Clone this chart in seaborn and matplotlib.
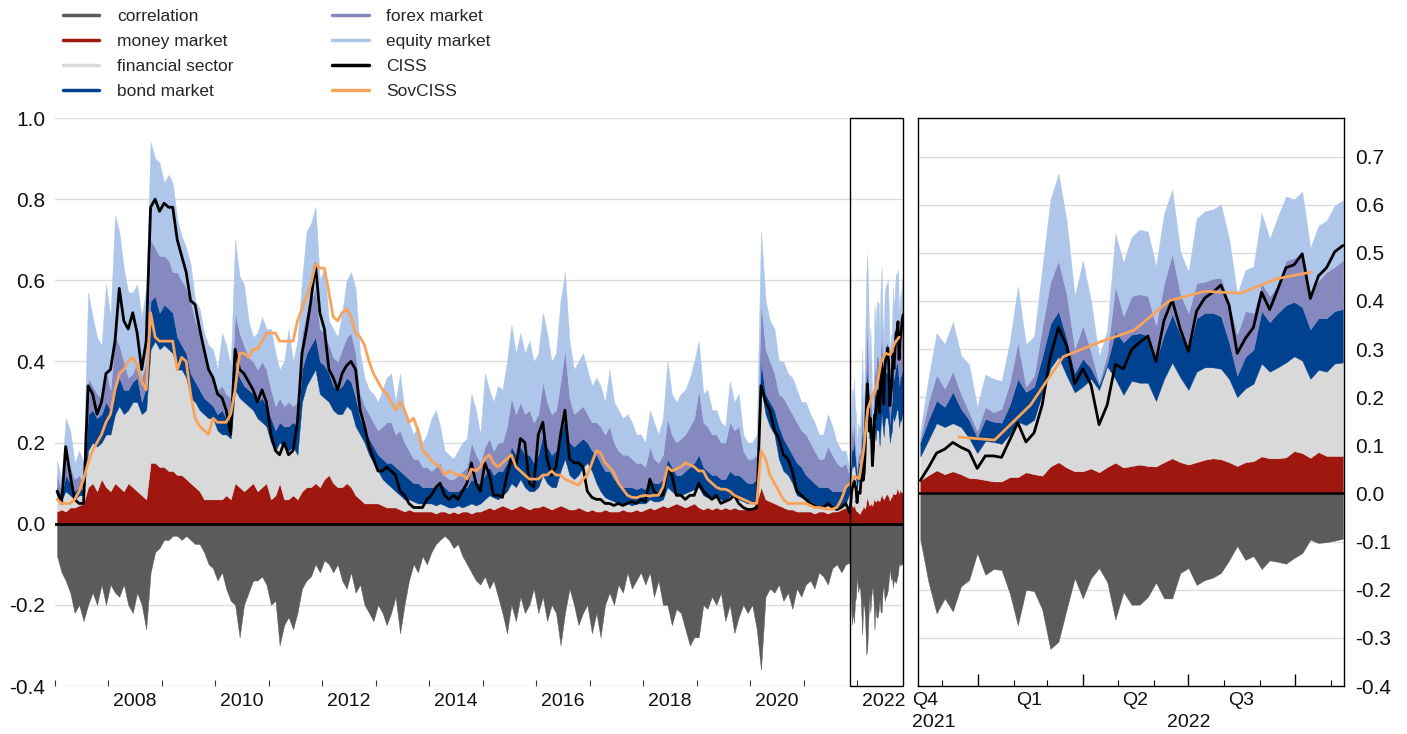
import numpy as np
import pandas as pd
import matplotlib
matplotlib.use("Agg")
import matplotlib.pyplot as plt
import matplotlib.dates as mdates
from matplotlib.lines import Line2D
from matplotlib.patches import Rectangle
import seaborn as sns

# ---- monthly history, Jan 2007 - Oct 2021 (stacked levels = top edge of each band) ----
money_hist = [0.03, 0.035, 0.03, 0.04, 0.04, 0.045, 0.05, 0.09, 0.10, 0.08, 0.11, 0.09,
              0.08, 0.10, 0.09, 0.08, 0.10, 0.09, 0.08, 0.07, 0.06, 0.15, 0.15, 0.14,
              0.14, 0.13, 0.13, 0.12, 0.12, 0.11, 0.10, 0.09, 0.08, 0.06, 0.06, 0.06,
              0.06, 0.06, 0.07, 0.06, 0.10, 0.09, 0.08, 0.09, 0.10, 0.08, 0.09, 0.10,
              0.06, 0.07, 0.10, 0.06, 0.06, 0.07, 0.06, 0.08, 0.09, 0.09, 0.10, 0.09,
              0.11, 0.12, 0.10, 0.09, 0.09, 0.10, 0.09, 0.07, 0.06, 0.05, 0.05, 0.05,
              0.05, 0.045, 0.04, 0.04, 0.04, 0.035, 0.03, 0.035, 0.03, 0.03, 0.03, 0.03,
              0.03, 0.025, 0.03, 0.03, 0.025, 0.03, 0.025, 0.03, 0.03, 0.025, 0.03, 0.03,
              0.035, 0.04, 0.035, 0.04, 0.045, 0.04, 0.035, 0.04, 0.045, 0.04, 0.035, 0.04,
              0.04, 0.045, 0.04, 0.035, 0.04, 0.045, 0.04, 0.035, 0.035, 0.04, 0.035, 0.03,
              0.035, 0.03, 0.03, 0.035, 0.03, 0.03, 0.03, 0.035, 0.03, 0.03, 0.035, 0.03,
              0.035, 0.04, 0.035, 0.04, 0.045, 0.04, 0.045, 0.05, 0.045, 0.04, 0.045, 0.05,
              0.04, 0.035, 0.04, 0.035, 0.04, 0.035, 0.04, 0.035, 0.04, 0.035, 0.035, 0.04,
              0.04, 0.05, 0.09, 0.06, 0.055, 0.05, 0.045, 0.04, 0.035, 0.035, 0.03, 0.03,
              0.03, 0.03, 0.025, 0.03, 0.03, 0.025, 0.03, 0.03, 0.035, 0.04]
fin_hist = [0.07, 0.06, 0.08, 0.07, 0.06, 0.07, 0.07, 0.18, 0.20, 0.19, 0.20, 0.22,
            0.22, 0.27, 0.29, 0.27, 0.28, 0.30, 0.30, 0.27, 0.28, 0.43, 0.45, 0.43,
            0.44, 0.43, 0.42, 0.38, 0.38, 0.36, 0.31, 0.30, 0.28, 0.27, 0.26, 0.26,
            0.23, 0.22, 0.22, 0.21, 0.33, 0.31, 0.30, 0.29, 0.28, 0.26, 0.25, 0.24,
            0.20, 0.18, 0.20, 0.19, 0.18, 0.19, 0.17, 0.30, 0.34, 0.36, 0.38, 0.32,
            0.31, 0.30, 0.28, 0.27, 0.27, 0.29, 0.28, 0.24, 0.22, 0.20, 0.17, 0.15,
            0.13, 0.11, 0.10, 0.09, 0.08, 0.07, 0.06, 0.06, 0.055, 0.05, 0.05, 0.05,
            0.05, 0.045, 0.05, 0.045, 0.04, 0.04, 0.045, 0.04, 0.045, 0.05, 0.045, 0.05,
            0.06, 0.07, 0.065, 0.06, 0.07, 0.08, 0.10, 0.09, 0.11, 0.09, 0.08, 0.08,
            0.09, 0.12, 0.10, 0.09, 0.09, 0.13, 0.16, 0.12, 0.11, 0.12, 0.14, 0.15,
            0.13, 0.10, 0.08, 0.065, 0.06, 0.055, 0.05, 0.05, 0.05, 0.045, 0.05, 0.05,
            0.05, 0.06, 0.055, 0.055, 0.06, 0.09, 0.08, 0.07, 0.07, 0.075, 0.08, 0.085,
            0.09, 0.07, 0.065, 0.06, 0.065, 0.06, 0.055, 0.07, 0.065, 0.06, 0.055, 0.05,
            0.05, 0.06, 0.34, 0.27, 0.24, 0.22, 0.16, 0.13, 0.12, 0.10, 0.07, 0.065,
            0.06, 0.055, 0.05, 0.045, 0.04, 0.045, 0.04, 0.04, 0.04, 0.05]
bond_hist = [0.09, 0.07, 0.12, 0.10, 0.08, 0.09, 0.08, 0.27, 0.28, 0.26, 0.27, 0.30,
             0.28, 0.33, 0.36, 0.33, 0.33, 0.35, 0.36, 0.30, 0.34, 0.55, 0.56, 0.52,
             0.54, 0.53, 0.52, 0.46, 0.44, 0.42, 0.37, 0.35, 0.33, 0.31, 0.30, 0.29,
             0.27, 0.28, 0.26, 0.25, 0.40, 0.36, 0.34, 0.33, 0.32, 0.30, 0.31, 0.29,
             0.26, 0.23, 0.25, 0.24, 0.24, 0.25, 0.24, 0.38, 0.42, 0.44, 0.46, 0.40,
             0.39, 0.37, 0.34, 0.33, 0.34, 0.36, 0.35, 0.31, 0.26, 0.23, 0.21, 0.19,
             0.17, 0.16, 0.15, 0.15, 0.14, 0.13, 0.12, 0.11, 0.10, 0.10, 0.09, 0.09,
             0.09, 0.09, 0.10, 0.09, 0.08, 0.08, 0.08, 0.09, 0.09, 0.11, 0.10, 0.10,
             0.12, 0.14, 0.12, 0.13, 0.13, 0.15, 0.19, 0.17, 0.19, 0.17, 0.17, 0.15,
             0.17, 0.22, 0.19, 0.17, 0.18, 0.22, 0.26, 0.20, 0.19, 0.20, 0.21, 0.20,
             0.18, 0.17, 0.15, 0.13, 0.13, 0.11, 0.10, 0.09, 0.09, 0.09, 0.085, 0.09,
             0.085, 0.11, 0.10, 0.10, 0.11, 0.16, 0.14, 0.12, 0.12, 0.13, 0.14, 0.15,
             0.17, 0.14, 0.13, 0.12, 0.12, 0.11, 0.11, 0.13, 0.12, 0.12, 0.11, 0.10,
             0.10, 0.11, 0.40, 0.32, 0.30, 0.28, 0.24, 0.21, 0.19, 0.17, 0.15, 0.14,
             0.12, 0.11, 0.10, 0.09, 0.09, 0.09, 0.08, 0.08, 0.08, 0.09]
forex_hist = [0.12, 0.08, 0.17, 0.14, 0.11, 0.12, 0.10, 0.36, 0.34, 0.32, 0.31, 0.38,
              0.33, 0.46, 0.44, 0.40, 0.36, 0.37, 0.40, 0.36, 0.40, 0.70, 0.68, 0.66,
              0.66, 0.65, 0.62, 0.62, 0.60, 0.58, 0.55, 0.50, 0.47, 0.42, 0.38, 0.36,
              0.33, 0.34, 0.32, 0.31, 0.52, 0.47, 0.44, 0.41, 0.40, 0.38, 0.40, 0.38,
              0.33, 0.29, 0.31, 0.29, 0.30, 0.29, 0.30, 0.47, 0.52, 0.55, 0.58, 0.48,
              0.47, 0.44, 0.41, 0.40, 0.43, 0.46, 0.47, 0.42, 0.32, 0.29, 0.27, 0.25,
              0.23, 0.24, 0.25, 0.25, 0.22, 0.23, 0.20, 0.18, 0.16, 0.16, 0.14, 0.14,
              0.13, 0.14, 0.15, 0.12, 0.11, 0.11, 0.12, 0.13, 0.14, 0.20, 0.17, 0.15,
              0.19, 0.21, 0.18, 0.20, 0.20, 0.24, 0.31, 0.27, 0.30, 0.27, 0.28, 0.25,
              0.27, 0.35, 0.30, 0.27, 0.28, 0.35, 0.43, 0.31, 0.27, 0.28, 0.29, 0.27,
              0.25, 0.25, 0.24, 0.22, 0.24, 0.20, 0.18, 0.17, 0.17, 0.16, 0.15, 0.15,
              0.14, 0.19, 0.16, 0.15, 0.17, 0.26, 0.22, 0.20, 0.21, 0.22, 0.24, 0.26,
              0.33, 0.25, 0.24, 0.22, 0.22, 0.20, 0.20, 0.25, 0.23, 0.24, 0.18, 0.16,
              0.16, 0.17, 0.55, 0.43, 0.40, 0.37, 0.32, 0.31, 0.29, 0.27, 0.25, 0.23,
              0.22, 0.20, 0.18, 0.16, 0.16, 0.19, 0.17, 0.15, 0.14, 0.15]
equity_hist = [0.155, 0.11, 0.26, 0.23, 0.15, 0.18, 0.15, 0.57, 0.51, 0.46, 0.44, 0.59,
               0.51, 0.76, 0.72, 0.63, 0.57, 0.57, 0.59, 0.51, 0.58, 0.94, 0.90, 0.89,
               0.84, 0.86, 0.84, 0.75, 0.71, 0.68, 0.64, 0.55, 0.53, 0.47, 0.44, 0.43,
               0.38, 0.47, 0.44, 0.39, 0.70, 0.61, 0.59, 0.50, 0.46, 0.47, 0.51, 0.48,
               0.48, 0.42, 0.38, 0.40, 0.48, 0.40, 0.45, 0.60, 0.72, 0.74, 0.78, 0.60,
               0.63, 0.50, 0.48, 0.46, 0.52, 0.60, 0.62, 0.58, 0.42, 0.36, 0.33, 0.32,
               0.30, 0.33, 0.36, 0.37, 0.30, 0.37, 0.28, 0.25, 0.22, 0.24, 0.20, 0.22,
               0.26, 0.28, 0.24, 0.18, 0.17, 0.16, 0.18, 0.20, 0.21, 0.32, 0.28, 0.22,
               0.37, 0.33, 0.30, 0.34, 0.33, 0.40, 0.49, 0.42, 0.47, 0.42, 0.45, 0.40,
               0.42, 0.52, 0.47, 0.40, 0.42, 0.55, 0.62, 0.45, 0.38, 0.40, 0.42, 0.38,
               0.34, 0.36, 0.34, 0.30, 0.38, 0.30, 0.28, 0.26, 0.27, 0.25, 0.22, 0.22,
               0.20, 0.28, 0.25, 0.22, 0.26, 0.40, 0.32, 0.30, 0.32, 0.33, 0.36, 0.40,
               0.45, 0.32, 0.33, 0.28, 0.28, 0.25, 0.24, 0.35, 0.30, 0.32, 0.22, 0.20,
               0.20, 0.22, 0.72, 0.55, 0.50, 0.48, 0.40, 0.40, 0.37, 0.36, 0.33, 0.30,
               0.30, 0.27, 0.25, 0.22, 0.22, 0.27, 0.24, 0.20, 0.18, 0.18]
corr_hist = [-0.08, -0.12, -0.14, -0.17, -0.22, -0.20, -0.24, -0.20, -0.17, -0.20, -0.15, -0.20,
             -0.15, -0.17, -0.18, -0.15, -0.20, -0.22, -0.17, -0.20, -0.26, -0.12, -0.07, -0.06,
             -0.04, -0.04, -0.03, -0.03, -0.04, -0.03, -0.04, -0.05, -0.05, -0.07, -0.10, -0.11,
             -0.14, -0.12, -0.16, -0.19, -0.20, -0.28, -0.20, -0.17, -0.14, -0.14, -0.13, -0.15,
             -0.20, -0.19, -0.30, -0.25, -0.23, -0.26, -0.22, -0.16, -0.14, -0.13, -0.10, -0.12,
             -0.09, -0.10, -0.12, -0.10, -0.14, -0.16, -0.12, -0.17, -0.15, -0.20, -0.22, -0.24,
             -0.20, -0.22, -0.25, -0.22, -0.18, -0.27, -0.20, -0.14, -0.10, -0.12, -0.08, -0.10,
             -0.07, -0.05, -0.04, -0.03, -0.04, -0.06, -0.05, -0.08, -0.10, -0.12, -0.14, -0.15,
             -0.13, -0.16, -0.14, -0.18, -0.22, -0.27, -0.20, -0.24, -0.18, -0.22, -0.20, -0.16,
             -0.22, -0.18, -0.24, -0.20, -0.22, -0.30, -0.22, -0.16, -0.20, -0.25, -0.22, -0.20,
             -0.27, -0.22, -0.28, -0.20, -0.17, -0.20, -0.15, -0.17, -0.12, -0.16, -0.14, -0.12,
             -0.15, -0.12, -0.18, -0.14, -0.20, -0.20, -0.25, -0.21, -0.22, -0.26, -0.30, -0.28,
             -0.28, -0.20, -0.21, -0.18, -0.20, -0.17, -0.24, -0.20, -0.27, -0.23, -0.20, -0.22,
             -0.20, -0.26, -0.36, -0.18, -0.16, -0.17, -0.15, -0.19, -0.17, -0.21, -0.16, -0.18,
             -0.15, -0.14, -0.16, -0.12, -0.13, -0.15, -0.11, -0.10, -0.12, -0.10]
ciss_hist = [0.08, 0.05, 0.19, 0.12, 0.06, 0.05, 0.05, 0.34, 0.32, 0.27, 0.30, 0.37,
             0.38, 0.45, 0.58, 0.50, 0.48, 0.52, 0.47, 0.38, 0.45, 0.78, 0.80, 0.77,
             0.79, 0.78, 0.78, 0.70, 0.66, 0.62, 0.55, 0.54, 0.48, 0.43, 0.38, 0.36,
             0.32, 0.31, 0.28, 0.22, 0.43, 0.38, 0.37, 0.35, 0.33, 0.30, 0.33, 0.30,
             0.22, 0.18, 0.17, 0.20, 0.17, 0.18, 0.25, 0.42, 0.48, 0.55, 0.64, 0.52,
             0.48, 0.38, 0.36, 0.33, 0.37, 0.39, 0.40, 0.38, 0.28, 0.24, 0.19, 0.16,
             0.13, 0.13, 0.14, 0.13, 0.12, 0.08, 0.07, 0.05, 0.04, 0.04, 0.04, 0.06,
             0.07, 0.09, 0.10, 0.07, 0.06, 0.07, 0.06, 0.08, 0.10, 0.15, 0.10, 0.08,
             0.15, 0.12, 0.07, 0.07, 0.065, 0.12, 0.16, 0.14, 0.21, 0.20, 0.10, 0.09,
             0.22, 0.25, 0.16, 0.12, 0.14, 0.22, 0.28, 0.16, 0.15, 0.15, 0.14, 0.08,
             0.065, 0.06, 0.06, 0.05, 0.05, 0.045, 0.05, 0.045, 0.05, 0.055, 0.05, 0.06,
             0.055, 0.11, 0.08, 0.07, 0.07, 0.14, 0.12, 0.07, 0.07, 0.06, 0.07, 0.07,
             0.10, 0.08, 0.07, 0.06, 0.07, 0.05, 0.055, 0.06, 0.07, 0.05, 0.04, 0.035,
             0.035, 0.04, 0.34, 0.30, 0.28, 0.23, 0.21, 0.17, 0.16, 0.13, 0.08, 0.07,
             0.06, 0.05, 0.045, 0.04, 0.04, 0.05, 0.04, 0.035, 0.04, 0.05]
# SovCISS, monthly Jan 2007 - Nov 2021
sov_hist = [0.06, 0.05, 0.05, 0.05, 0.06, 0.08, 0.11, 0.15, 0.18, 0.20, 0.22, 0.25,
            0.27, 0.33, 0.37, 0.38, 0.40, 0.41, 0.39, 0.35, 0.33, 0.52, 0.46, 0.45,
            0.45, 0.45, 0.45, 0.38, 0.41, 0.40, 0.32, 0.26, 0.24, 0.23, 0.22, 0.26,
            0.25, 0.25, 0.25, 0.27, 0.33, 0.42, 0.42, 0.41, 0.43, 0.43, 0.45, 0.47,
            0.47, 0.47, 0.45, 0.45, 0.45, 0.45, 0.50, 0.53, 0.56, 0.59, 0.64, 0.63,
            0.63, 0.57, 0.51, 0.50, 0.52, 0.53, 0.51, 0.47, 0.46, 0.44, 0.40, 0.37,
            0.35, 0.33, 0.32, 0.30, 0.28, 0.30, 0.28, 0.25, 0.26, 0.23, 0.18, 0.17,
            0.155, 0.146, 0.14, 0.12, 0.13, 0.125, 0.12, 0.12, 0.11, 0.135, 0.13, 0.14,
            0.16, 0.17, 0.15, 0.14, 0.15, 0.16, 0.17, 0.14, 0.13, 0.12, 0.11, 0.11,
            0.11, 0.12, 0.12, 0.13, 0.12, 0.12, 0.11, 0.105, 0.10, 0.095, 0.11, 0.12,
            0.15, 0.18, 0.175, 0.15, 0.14, 0.125, 0.10, 0.085, 0.07, 0.065, 0.064, 0.068,
            0.07, 0.068, 0.07, 0.07, 0.09, 0.14, 0.13, 0.135, 0.14, 0.15, 0.145, 0.14,
            0.13, 0.13, 0.11, 0.10, 0.09, 0.085, 0.085, 0.08, 0.07, 0.065, 0.06, 0.055,
            0.05, 0.05, 0.18, 0.16, 0.12, 0.10, 0.08, 0.06, 0.05, 0.05, 0.05, 0.05,
            0.05, 0.045, 0.04, 0.04, 0.038, 0.036, 0.036, 0.04, 0.06, 0.09, 0.10]

# ---- weekly, 12 Nov 2021 - 11 Nov 2022 ----
money_week = [0.027, 0.038, 0.048, 0.04, 0.046, 0.04, 0.032, 0.031, 0.028, 0.025, 0.025, 0.034,
              0.034, 0.044, 0.04, 0.037, 0.056, 0.065, 0.054, 0.046, 0.046, 0.052, 0.044, 0.055,
              0.064, 0.054, 0.057, 0.06, 0.057, 0.056, 0.065, 0.073, 0.065, 0.06, 0.065, 0.07,
              0.073, 0.071, 0.065, 0.057, 0.065, 0.067, 0.077, 0.073, 0.073, 0.075, 0.088, 0.084,
              0.074, 0.086, 0.078, 0.078, 0.078]
fin_week = [0.077, 0.111, 0.146, 0.138, 0.146, 0.138, 0.115, 0.084, 0.109, 0.107, 0.103, 0.123,
            0.149, 0.142, 0.153, 0.207, 0.26, 0.284, 0.245, 0.21, 0.222, 0.238, 0.215, 0.264,
            0.238, 0.205, 0.234, 0.23, 0.23, 0.192, 0.238, 0.272, 0.241, 0.215, 0.253, 0.262,
            0.262, 0.259, 0.238, 0.20, 0.218, 0.228, 0.27, 0.253, 0.262, 0.272, 0.285, 0.276,
            0.238, 0.257, 0.253, 0.27, 0.272]
bond_week = [0.107, 0.153, 0.193, 0.18, 0.211, 0.176, 0.153, 0.116, 0.155, 0.149, 0.147, 0.184,
             0.238, 0.211, 0.222, 0.284, 0.352, 0.379, 0.322, 0.25, 0.28, 0.26, 0.225, 0.27,
             0.337, 0.314, 0.33, 0.333, 0.328, 0.276, 0.33, 0.372, 0.33, 0.295, 0.364, 0.375,
             0.375, 0.368, 0.314, 0.245, 0.284, 0.299, 0.379, 0.356, 0.375, 0.391, 0.398, 0.387,
             0.341, 0.364, 0.364, 0.379, 0.383]
forex_week = [0.115, 0.19, 0.247, 0.218, 0.254, 0.207, 0.169, 0.13, 0.18, 0.169, 0.176, 0.23,
              0.314, 0.222, 0.245, 0.345, 0.439, 0.484, 0.414, 0.30, 0.349, 0.295, 0.23, 0.291,
              0.431, 0.368, 0.41, 0.414, 0.41, 0.349, 0.437, 0.498, 0.414, 0.375, 0.437, 0.44,
              0.446, 0.448, 0.398, 0.33, 0.379, 0.375, 0.437, 0.41, 0.433, 0.484, 0.489, 0.498,
              0.42, 0.442, 0.46, 0.471, 0.484]
equity_week = [0.13, 0.24, 0.333, 0.31, 0.356, 0.287, 0.268, 0.18, 0.247, 0.238, 0.234, 0.314,
               0.43, 0.31, 0.326, 0.467, 0.61, 0.664, 0.567, 0.41, 0.483, 0.40, 0.284, 0.34,
               0.54, 0.479, 0.533, 0.548, 0.544, 0.471, 0.582, 0.631, 0.502, 0.46, 0.571, 0.586,
               0.59, 0.60, 0.529, 0.414, 0.464, 0.471, 0.582, 0.529, 0.575, 0.617, 0.611, 0.627,
               0.51, 0.556, 0.567, 0.598, 0.609]
corr_week = [-0.096, -0.184, -0.249, -0.218, -0.245, -0.193, -0.18, -0.124, -0.169, -0.157, -0.159, -0.207,
             -0.274, -0.2, -0.203, -0.241, -0.323, -0.308, -0.241, -0.176, -0.218, -0.176, -0.155, -0.184,
             -0.262, -0.205, -0.231, -0.231, -0.215, -0.185, -0.218, -0.218, -0.165, -0.155, -0.19, -0.18,
             -0.175, -0.165, -0.139, -0.109, -0.138, -0.13, -0.157, -0.139, -0.142, -0.146, -0.134, -0.124,
             -0.096, -0.103, -0.101, -0.098, -0.094]
ciss_week = [0.027, 0.054, 0.084, 0.092, 0.106, 0.096, 0.088, 0.052, 0.078, 0.078, 0.075, 0.111,
             0.147, 0.107, 0.126, 0.184, 0.284, 0.345, 0.307, 0.228, 0.259, 0.226, 0.143, 0.184,
             0.268, 0.259, 0.299, 0.314, 0.327, 0.274, 0.36, 0.402, 0.341, 0.295, 0.379, 0.406,
             0.418, 0.433, 0.391, 0.291, 0.322, 0.345, 0.418, 0.382, 0.425, 0.469, 0.475, 0.498,
             0.405, 0.452, 0.469, 0.502, 0.515]
# SovCISS, monthly Dec 2021 - Oct 2022
sov_recent = [0.117, 0.111, 0.184, 0.284, 0.314, 0.339, 0.401, 0.42, 0.416, 0.446, 0.46]

labels = ["correlation", "money market", "financial sector", "bond market",
          "forex market", "equity market", "CISS", "SovCISS"]
c_corr = "#5b5b5b"
c_money = "#a0170f"
c_fin = "#d9d9d9"
c_bond = "#00428f"
c_forex = "#8689bf"
c_equity = "#adc6ea"
c_sov = "#f7a35c"
band_colors = [c_money, c_fin, c_bond, c_forex, c_equity]

sns.set_theme(style="white")
plt.rcParams["font.family"] = ["Liberation Sans", "DejaVu Sans"]
plt.rcParams["axes.unicode_minus"] = False

months = pd.date_range("2007-01-01", periods=len(ciss_hist), freq="MS") + pd.Timedelta(days=14)
weeks = pd.date_range("2021-11-12", periods=len(ciss_week), freq="7D")
sov_months = pd.date_range("2007-01-01", periods=len(sov_hist), freq="MS") + pd.Timedelta(days=14)
sov_recent_dates = pd.date_range("2021-12-01", periods=len(sov_recent), freq="MS") + pd.Timedelta(days=14)


def fmt(v):
    s = f"{v:.1f}"
    return "0.0" if s == "-0.0" else s


def draw_panel(ax, x, levels, corr, ciss, sx, sov, lw_ciss, lw_zero):
    lv = np.vstack([np.zeros(len(x))] + [np.asarray(l) for l in levels])
    parts = np.clip(np.diff(lv, axis=0), 0, None)
    ax.stackplot(x, parts, colors=band_colors, linewidth=0.3,
                 edgecolor="face", zorder=2)
    ax.fill_between(x, corr, 0, color=c_corr, linewidth=0.3, zorder=2)
    ax.axhline(0, color="black", lw=lw_zero, zorder=3)
    sns.lineplot(x=x, y=ciss, ax=ax, color="black", lw=lw_ciss,
                 estimator=None, sort=False, zorder=4)
    sns.lineplot(x=sx, y=sov, ax=ax, color=c_sov, lw=2.0,
                 estimator=None, sort=False, zorder=5)
    ax.set_xlabel("")
    ax.set_ylabel("")


fig = plt.figure(figsize=(14.07, 7.34), dpi=100)
ax1 = fig.add_axes([55 / 1407, 48 / 734, 848 / 1407, 568 / 734])
ax2 = fig.add_axes([918 / 1407, 48 / 734, 426 / 1407, 568 / 734])

# ---- left panel: full history ----
x_all = mdates.date2num(months.append(weeks))
lev_all = [money_hist + money_week, fin_hist + fin_week, bond_hist + bond_week,
           forex_hist + forex_week, equity_hist + equity_week]
draw_panel(ax1, x_all, lev_all, corr_hist + corr_week, ciss_hist + ciss_week,
           mdates.date2num(sov_months.append(sov_recent_dates)), sov_hist + sov_recent,
           2.0, 2.0)

x_start = mdates.date2num(pd.Timestamp("2007-01-01"))
x_end = mdates.date2num(pd.Timestamp("2022-11-10"))
box_start = mdates.date2num(pd.Timestamp("2021-11-10"))
ax1.set_xlim(x_start, x_end)
ax1.set_ylim(-0.4, 1.0)
l_ticks = np.round(np.arange(-0.4, 1.01, 0.2), 1)
ax1.set_yticks(l_ticks)
ax1.set_yticklabels([fmt(v) for v in l_ticks])
ax1.yaxis.grid(True, color="#dcdcdc", lw=1.0)
ax1.set_axisbelow(True)
for s in ax1.spines.values():
    s.set_visible(False)
ax1.tick_params(axis="y", length=0, pad=7, labelsize=15, labelcolor="#111111")

year_ticks = mdates.date2num(pd.date_range("2007-01-01", "2022-01-01", freq="YS"))
ax1.set_xticks(year_ticks)
ax1.set_xticklabels([""] * len(year_ticks))
mid_years = mdates.date2num(pd.to_datetime([f"{y}-07-01" for y in range(2008, 2023, 2)]))
ax1.set_xticks(mid_years, minor=True)
ax1.set_xticklabels([str(y) for y in range(2008, 2023, 2)], minor=True)
ax1.tick_params(axis="x", which="major", direction="in", length=4, width=0.8,
                color="#333333", bottom=True)
ax1.tick_params(axis="x", which="minor", length=0, pad=5, labelsize=14,
                labelcolor="#111111")
ax1.add_patch(Rectangle((box_start, -0.4), x_end - box_start, 1.4, fill=False,
                        ec="black", lw=1.0, zorder=6, clip_on=False))

# ---- right panel: last year ----
xw = mdates.date2num(weeks)
lev_w = [money_week, fin_week, bond_week, forex_week, equity_week]
draw_panel(ax2, xw, lev_w, corr_week, ciss_week,
           mdates.date2num(sov_recent_dates), sov_recent, 2.0, 1.8)
ax2.set_xlim(box_start, mdates.date2num(pd.Timestamp("2022-11-12")))
ax2.set_ylim(-0.4, 0.78)
r_ticks = np.round(np.arange(-0.4, 0.71, 0.1), 1)
ax2.set_yticks(r_ticks)
ax2.set_yticklabels([fmt(v) for v in r_ticks])
ax2.yaxis.tick_right()
ax2.yaxis.grid(True, color="#dcdcdc", lw=1.0)
ax2.set_axisbelow(True)
for s in ax2.spines.values():
    s.set_visible(True)
    s.set_color("black")
    s.set_linewidth(1.0)
ax2.tick_params(axis="y", length=0, pad=8, labelsize=15, labelcolor="#111111")

q_starts = mdates.date2num(pd.to_datetime(["2022-01-01", "2022-04-01", "2022-07-01", "2022-10-01"]))
m_starts = mdates.date2num(pd.date_range("2021-12-01", "2022-11-01", freq="MS"))
ax2.set_xticks(q_starts)
ax2.set_xticklabels([""] * len(q_starts))
ax2.set_xticks(m_starts, minor=True)
ax2.tick_params(axis="x", which="major", direction="in", length=9, width=1.0,
                color="black", bottom=True)
ax2.tick_params(axis="x", which="minor", direction="in", length=4, width=0.8,
                color="black", bottom=True)

trans = ax2.get_xaxis_transform()
for lab, d in zip(["Q1", "Q2", "Q3"], ["2022-02-14", "2022-05-16", "2022-08-15"]):
    ax2.text(mdates.date2num(pd.Timestamp(d)), -0.011, lab, transform=trans,
             ha="center", va="top", fontsize=14, color="#111111")
ax2.text(mdates.date2num(pd.Timestamp("2022-07-01")), -0.05, "2022", transform=trans,
         ha="center", va="top", fontsize=14, color="#111111")
ax2.text(-0.014, -0.011, "Q4", transform=ax2.transAxes, ha="left", va="top",
         fontsize=14, color="#111111")
ax2.text(-0.014, -0.05, "2021", transform=ax2.transAxes, ha="left", va="top",
         fontsize=14, color="#111111")

# ---- legend ----
handles = [Line2D([], [], color=c, lw=2.5) for c in
           [c_corr, c_money, c_fin, c_bond, c_forex, c_equity, "black", c_sov]]
fig.legend(handles, labels, ncol=2, loc="upper left",
           bbox_to_anchor=(63 / 1407, 1 - 9 / 734), frameon=False, fontsize=12.5,
           handlelength=2.1, handletextpad=1.0, columnspacing=5.7,
           labelspacing=0.56, borderpad=0, borderaxespad=0)

fig.savefig("out.png", dpi=100)
